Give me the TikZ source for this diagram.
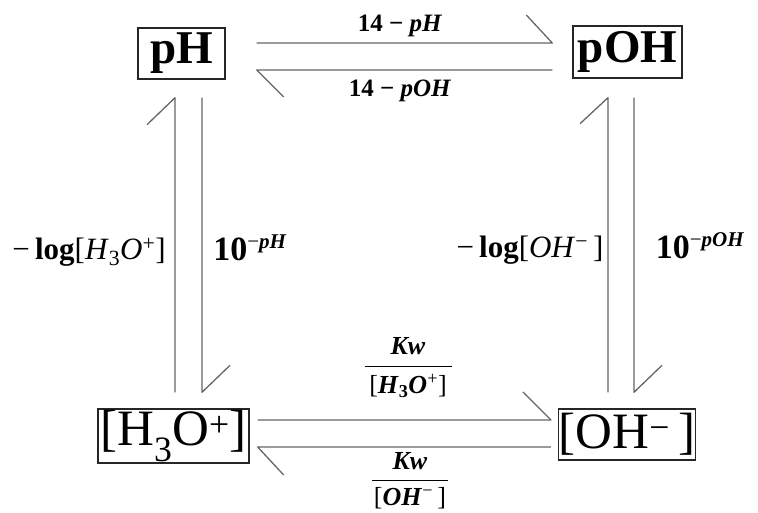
\documentclass[tikz,border=0pt]{standalone}
\usepackage{fontspec}
\setmainfont{Liberation Serif}
\newcommand{\fsz}[1]{\fontsize{#1}{#1}\selectfont}
\newcommand{\supr}[1]{\raisebox{12pt}{\fsz{21}#1}}
\begin{document}
\begin{tikzpicture}[x=1pt,y=-1pt,
  box/.style={draw=black!85, line width=1.4pt, inner sep=0pt},
  harp/.style={draw=black!60, line width=1.3pt, line join=round},
  lbl/.style={inner sep=0pt, font=\fsz{25}},
  side/.style={inner sep=0pt, font=\fsz{31}},
  frac/.style={inner sep=0pt, font=\fsz{26}}]
\useasboundingbox[fill=white] (0,0) rectangle (758,513);

\node[box, minimum width=87pt, minimum height=51pt, font=\fsz{47}\bfseries] (pH) at (181.5,53.5) {pH};
\node[box, minimum width=109pt, minimum height=52pt, font=\fsz{47}\bfseries] (pOH) at (627.5,52) {pOH};
\node[box, minimum width=151pt, minimum height=54pt, font=\fsz{51}] (H3O) at (173.5,436) {[H\textsubscript{3}O\textsuperscript{+}]};
\node[box, minimum width=134pt, minimum height=51pt, font=\fsz{51}] (OH) at (627,434.5) {[OH\textsuperscript{−}\,]};

% top pair
\draw[harp] ([shift={(31,-10.5)}]pH.east) -- ([shift={(-20,-9)}]pOH.west) -- ++(-26,-28);
\draw[harp] ([shift={(-20,18)}]pOH.west) -- ([shift={(31,16.5)}]pH.east) -- ++(27,27);
% left pair
\draw[harp] ([shift={(1.5,-16)}]H3O.north) -- ([shift={(-6.5,18)}]pH.south) -- ++(-28,27);
\draw[harp] ([shift={(20.5,18)}]pH.south) -- ([shift={(28.5,-16)}]H3O.north) -- ++(28,-27);
% right pair
\draw[harp] ([shift={(-19,-16)}]OH.north) -- ([shift={(-19.5,19)}]pOH.south) -- ++(-28,26);
\draw[harp] ([shift={(6.5,19)}]pOH.south) -- ([shift={(7,-16)}]OH.north) -- ++(28,-27);
% bottom pair
\draw[harp] ([shift={(8,-16)}]H3O.east) -- ([shift={(-7,-14.5)}]OH.west) -- ++(-28,-28);
\draw[harp] ([shift={(-7,12.5)}]OH.west) -- ([shift={(8,11)}]H3O.east) -- ++(26,28);

\node[lbl] (l1) at (400,26) {\textbf{14 − \textit{pH}}};
\node[lbl] (l2) at (400,91) {\textbf{14 − \textit{pOH}}};
\node[side] (l3) at (89,252) {−\,\textbf{log}[\textit{H}\textsubscript{3}\textit{O}\textsuperscript{+}]};
\node[side] (l4) at (250,248) {\fsz{34}\textbf{10}\supr{−\textbf{\textit{pH}}}};
\node[side] (l5) at (530,250) {−\,\textbf{log}[\textit{OH}\textsuperscript{−}\,]};
\node[side] (l6) at (700,246) {\fsz{34}\textbf{10}\supr{−\textbf{\textit{pOH}}}};

\setlength{\arrayrulewidth}{1.2pt}
\node[frac] (f1) at (408,369) {\begin{tabular}{@{}c@{}}\makebox[87pt]{\textbf{\textit{Kw}}}\\[3pt]\hline\rule{0pt}{27pt}[\textbf{\textit{H}}\textsubscript{\textbf{3}}\textbf{\textit{O}}\textsuperscript{+}]\end{tabular}};
\node[frac] (f2) at (410,482) {\begin{tabular}{@{}c@{}}\makebox[76pt]{\textbf{\textit{Kw}}}\\[3pt]\hline\rule{0pt}{24pt}[\textbf{\textit{OH}}\textsuperscript{−}\,]\end{tabular}};
\end{tikzpicture}
\end{document}
